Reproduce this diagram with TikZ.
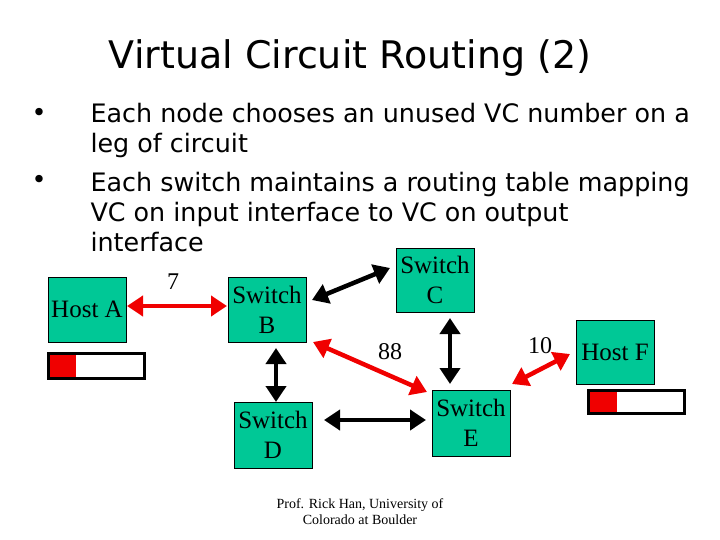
\documentclass[tikz,border=0pt]{standalone}
\usepackage{fontspec}
\setmainfont{Liberation Serif}
\newfontfamily\dvs{DejaVu Sans}
\usetikzlibrary{arrows.meta}
\definecolor{teal2}{RGB}{0,200,150}
\definecolor{red2}{RGB}{240,0,0}
\begin{document}
\begin{tikzpicture}[x=1pt,y=-1pt,
 box/.style={draw=black,fill=teal2,line width=0.8pt,align=center,font=\fontsize{25}{30}\selectfont,inner sep=0pt},
 red/.style={draw=red2,line width=4.5pt,{Triangle[length=16pt,width=20pt]}-{Triangle[length=16pt,width=20pt]}},
 blk/.style={draw=black,line width=4.5pt,{Triangle[length=16pt,width=20pt]}-{Triangle[length=16pt,width=20pt]}},
 lab/.style={font=\fontsize{24}{26}\selectfont},
 bul/.style={anchor=west,font=\dvs\fontsize{25.4}{30}\selectfont,align=left}]
\useasboundingbox (0,0) rectangle (720,540);
\node[font=\dvs\fontsize{38}{44}\selectfont] (title) at (350,58) {Virtual Circuit Routing (2)};
\node[bul] (d1b) at (28,115) {\textbullet};
\node[bul] (d2b) at (28,182) {\textbullet};
\node[bul] (b1) at (87,130) {Each node chooses an unused VC number on a\\leg of circuit};
\node[bul] (b2) at (87,212) {Each switch maintains a routing table mapping\\VC on input interface to VC on output\\interface};
\node[box,minimum width=78pt,minimum height=65pt] (A) at (87,309.5) {Host A};
\node[box,minimum width=78pt,minimum height=65pt] (B) at (267,309.5) {Switch\\B};
\node[box,minimum width=78pt,minimum height=64pt] (C) at (435,280) {Switch\\C};
\node[box,minimum width=78pt,minimum height=66pt] (D) at (273,435) {Switch\\D};
\node[box,minimum width=78pt,minimum height=66pt] (E) at (471,423) {Switch\\E};
\node[box,minimum width=78pt,minimum height=64pt] (F) at (615,352) {Host F};
\draw[line width=3pt] (48,353) rectangle (144,378);
\fill[red2] (49.5,354.5) rectangle (76,376.5);
\draw[line width=3pt] (588,390) rectangle (684,413);
\fill[red2] (589.5,391.5) rectangle (617,411.5);
\coordinate (a1) at (127,306); \coordinate (b1) at (227,306);
\draw[red] (a1) -- (b1);
\coordinate (b2) at (312,300); \coordinate (c1) at (390,268);
\draw[blk] (b2) -- (c1);
\coordinate (b3) at (313,342); \coordinate (e1) at (427,392);
\draw[red] (b3) -- (e1);
\coordinate (b4) at (276,348); \coordinate (d1) at (276,402);
\draw[blk] (b4) -- (d1);
\coordinate (c2) at (450,318); \coordinate (e2) at (450,384);
\draw[blk] (c2) -- (e2);
\coordinate (d2) at (324,420); \coordinate (e3) at (426,420);
\draw[blk] (d2) -- (e3);
\coordinate (e4) at (512,384); \coordinate (f1) at (570,354);
\draw[red] (e4) -- (f1);
\node[lab] (l7) at (173,282) {7};
\node[lab] (l88) at (390,352) {88};
\node[lab] (l10) at (540,346) {10};
\node[font=\fontsize{14}{16}\selectfont,align=center] (foot) at (360,512) {Prof. Rick Han, University of\\Colorado at Boulder};
\end{tikzpicture}
\end{document}
